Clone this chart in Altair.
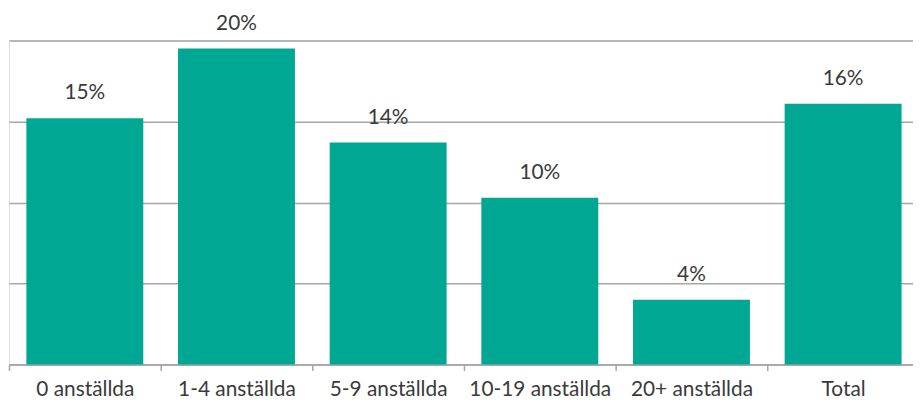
import altair as alt
import pandas as pd

categories = ["0 anställda", "1-4 anställda", "5-9 anställda", "10-19 anställda", "20+ anställda", "Total"]
values = [15.2, 19.5, 13.7, 10.3, 4.0, 16.1]
labels = ["15%", "20%", "14%", "10%", "4%", "16%"]

df = pd.DataFrame({"cat": categories, "val": values, "lab": labels})

FONT = "Lato"

x = alt.X("cat:N", sort=categories, title=None,
          scale=alt.Scale(paddingInner=0, paddingOuter=0, range=[0, 918]),
          axis=alt.Axis(labelAngle=0, labelFontSize=21, labelFont=FONT, labelColor="#3a3a3a",
                        domainColor="#a6a6a6", domainWidth=1.5, tickColor="#a6a6a6", tickWidth=1.5,
                        tickSize=6, tickBand="extent", labelPadding=8, grid=False))
y = alt.Y("val:Q", title=None, scale=alt.Scale(domain=[0, 20], nice=False),
          axis=alt.Axis(values=[0, 5, 10, 15, 20], labels=False, ticks=False, domain=False,
                        grid=True, gridColor="#a6a6a6", gridWidth=1.5))

bars = alt.Chart(df).mark_bar(color="#00a894", width=alt.RelativeBandSize(0.771)).encode(x=x, y=y)
text = alt.Chart(df).mark_text(dy=-15, baseline="bottom", fontSize=21, font=FONT, color="#3a3a3a").encode(
    x=alt.X("cat:N", sort=categories), y="val:Q", text="lab:N")

chart = (bars + text).properties(
    width=912, height=327,
    padding={"left": 1, "top": 31, "right": 0, "bottom": 35},
    autosize=alt.AutoSizeParams(type="none"),
).configure_view(stroke=None).configure(background="white")

chart.save("out.html", embed_options={"renderer": "svg", "actions": False})
